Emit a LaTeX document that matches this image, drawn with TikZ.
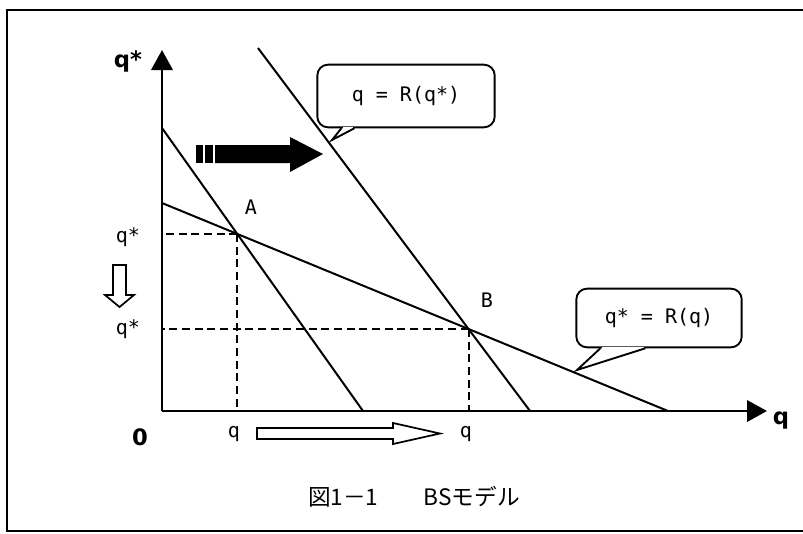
\documentclass[tikz,border=0pt]{standalone}
\usepackage{fontspec}
\setmainfont{DejaVu Sans Mono}
\newfontfamily\axisfont{DejaVu Sans}
\newfontfamily\jpfont{Noto Sans CJK JP}
\usetikzlibrary{arrows.meta,intersections,calc}

\tikzset{
  curve/.style={line width=1.5pt},
  guide/.style={line width=1.4pt,dash pattern=on 6pt off 3.5pt},
  axis/.style={line width=2pt,-{Triangle[length=15pt,width=16pt]}},
  lbl/.style={font=\fontsize{15}{17}\selectfont,inner sep=0pt},
  axlbl/.style={font=\axisfont\bfseries\fontsize{17}{19}\selectfont,inner sep=0pt},
  bubble/.style={draw,line width=1.4pt,rounded corners=8pt,fill=white,font=\fontsize{15}{17}\selectfont},
  hollow/.style={draw,line width=1.3pt,fill=white},
}

\begin{document}
\begin{tikzpicture}[x=0.75pt,y=-0.75pt]
  \useasboundingbox (0,0) rectangle (803,533);
  % frame
  \draw[line width=2pt] (808,10) -- (7,10) -- (7,531) -- (808,531);

  % axes
  \coordinate (O) at (162,411);
  \coordinate (ytop) at (162,50);
  \coordinate (xend) at (767,411);
  \draw[axis] (O) -- (ytop);
  \draw[axis] (O) -- (xend);

  % reaction lines
  \coordinate (rs1) at (162,128); \coordinate (re1) at (363,411);
  \coordinate (rs2) at (258,48);  \coordinate (re2) at (530,411);
  \coordinate (rs3) at (162,203); \coordinate (re3) at (668,411);
  \draw[curve,name path=old] (rs1) -- (re1);
  \draw[curve,name path=new] (rs2) -- (re2);
  \draw[curve,name path=own] (rs3) -- (re3);
  \path[name intersections={of=old and own,by=A}];
  \path[name intersections={of=new and own,by=B}];

  % guides to the axes
  \draw[guide] (A) -- (A -| O);
  \draw[guide] (A) -- (A |- O);
  \draw[guide] (B) -- (B -| O);
  \draw[guide] (B) -- (B |- O);

  % labels
  \node[axlbl] (qsy) at (128,61) {q*};
  \node[axlbl] (qx) at (781,421) {q};
  \node[axlbl] (zero) at (140,437) {0};
  \node[lbl] (qsA) at (128,237) {q*};
  \node[lbl] (qsB) at (128,329) {q*};
  \node[lbl] (qA) at (234,434) {q};
  \node[lbl] (qB) at (466,434) {q};
  \node[lbl] (labA) at (251,207) {A};
  \node[lbl] (labB) at (487,300) {B};

  % shift arrows
  \draw[hollow] (113,265) -- (126,265) -- (126,295) -- (134,295) -- (119.5,307)
    -- (105,295) -- (113,295) -- cycle;
  \draw[hollow] (257,428) -- (393,428) -- (393,423) -- (440,433.5) -- (393,444)
    -- (393,439) -- (257,439) -- cycle;
  \fill (196,145) rectangle (203,163);
  \fill (205,145) rectangle (213,163);
  \fill (215,145) -- (290,145) -- (290,137) -- (323,154) -- (290,172)
    -- (290,163) -- (215,163) -- cycle;

  % callouts
  \node[bubble,minimum width=133pt,minimum height=47pt] (rqs) at (406,96) {q = R(q*)};
  \coordinate (tip1) at (332,140);
  \coordinate (b11) at ($(rqs.south west)+(25,0)$);
  \coordinate (b12) at ($(rqs.south west)+(38,0)$);
  \fill[white] ($(b11)+(1.5,-1.5)$) rectangle ($(b12)+(-1.5,1.5)$);
  \draw[line width=1.4pt,line join=miter] (b11) -- (tip1) -- (b12);

  \node[bubble,minimum width=124pt,minimum height=44pt] (rq) at (659,318) {q* = R(q)};
  \coordinate (tip2) at (577,370);
  \coordinate (b21) at ($(rq.south west)+(25,0)$);
  \coordinate (b22) at ($(rq.south west)+(70,0)$);
  \fill[white] ($(b21)+(1.5,-1.5)$) rectangle ($(b22)+(-1.5,1.5)$);
  \draw[line width=1.4pt,line join=miter] (b21) -- (tip2) -- (b22);

  % caption
  \node[font=\jpfont\fontsize{17}{20}\selectfont] (cap) at (414,497) {図1－1　　BSモデル};
\end{tikzpicture}
\end{document}
